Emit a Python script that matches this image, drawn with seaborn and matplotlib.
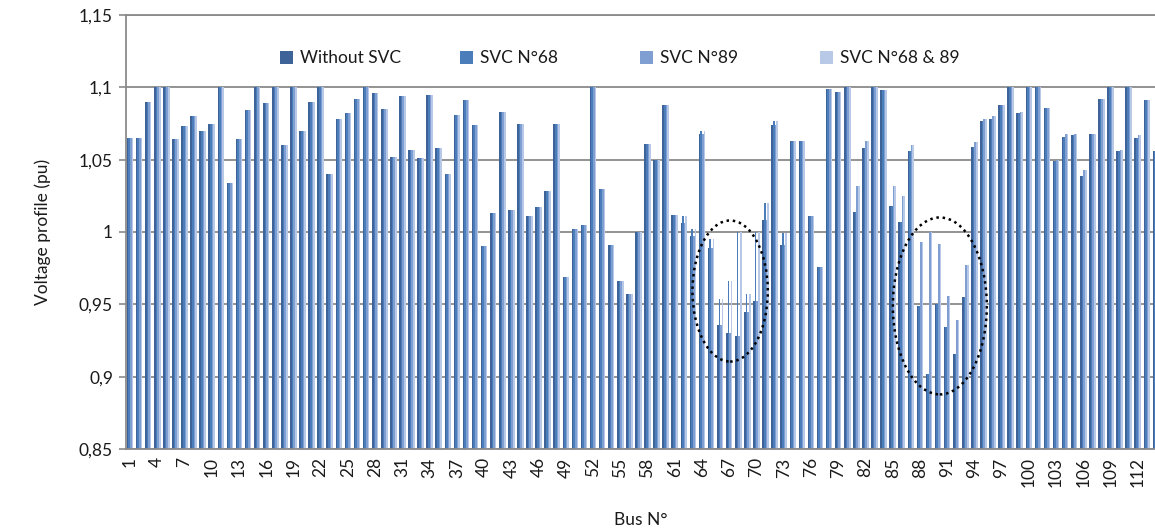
import numpy as np
import pandas as pd
import seaborn as sns
import matplotlib.pyplot as plt
from matplotlib.patches import Patch, Ellipse

# Bus numbers and voltage profile (pu) for each case
buses = list(range(1, 115))

without_svc = [1.065, 1.065, 1.090, 1.100, 1.100, 1.064, 1.073, 1.080, 1.070, 1.075,
               1.100, 1.034, 1.064, 1.084, 1.100, 1.089, 1.100, 1.060, 1.100, 1.070,
               1.090, 1.100, 1.040, 1.078, 1.082, 1.092, 1.100, 1.096, 1.085, 1.052,
               1.094, 1.057, 1.051, 1.095, 1.058, 1.040, 1.081, 1.091, 1.074, 0.990,
               1.013, 1.083, 1.015, 1.075, 1.011, 1.017, 1.028, 1.075, 0.969, 1.002,
               1.005, 1.100, 1.030, 0.991, 0.966, 0.957, 1.000, 1.061, 1.050, 1.088,
               1.012, 1.006, 0.997, 1.068, 0.989, 0.936, 0.930, 0.928, 0.945, 0.952,
               1.008, 1.074, 0.991, 1.063, 1.063, 1.011, 0.976, 1.099, 1.097, 1.100,
               1.014, 1.058, 1.100, 1.098, 1.018, 1.007, 1.056, 0.949, 0.902, 0.950,
               0.934, 0.916, 0.955, 1.059, 1.077, 1.078, 1.088, 1.100, 1.082, 1.100,
               1.100, 1.086, 1.049, 1.066, 1.067, 1.039, 1.068, 1.092, 1.100, 1.056,
               1.100, 1.065, 1.091, 1.056]

svc_68 = [1.065, 1.065, 1.090, 1.100, 1.100, 1.064, 1.073, 1.080, 1.070, 1.075,
          1.100, 1.034, 1.064, 1.084, 1.100, 1.089, 1.100, 1.060, 1.100, 1.070,
          1.090, 1.100, 1.040, 1.078, 1.082, 1.092, 1.100, 1.096, 1.085, 1.052,
          1.094, 1.057, 1.051, 1.095, 1.058, 1.040, 1.081, 1.091, 1.074, 0.990,
          1.013, 1.083, 1.015, 1.075, 1.011, 1.017, 1.028, 1.075, 0.969, 1.002,
          1.005, 1.100, 1.030, 0.991, 0.966, 0.957, 1.000, 1.061, 1.050, 1.088,
          1.012, 1.011, 1.002, 1.070, 0.995, 0.954, 0.966, 1.000, 0.957, 1.000,
          1.020, 1.077, 0.999, 1.063, 1.063, 1.011, 0.976, 1.099, 1.097, 1.100,
          1.014, 1.058, 1.100, 1.098, 1.018, 1.007, 1.056, 0.949, 0.902, 0.950,
          0.934, 0.916, 0.955, 1.059, 1.077, 1.078, 1.088, 1.100, 1.082, 1.100,
          1.100, 1.086, 1.049, 1.066, 1.067, 1.039, 1.068, 1.092, 1.100, 1.056,
          1.100, 1.065, 1.091, 1.056]

svc_89 = [1.065, 1.065, 1.090, 1.100, 1.100, 1.064, 1.073, 1.080, 1.070, 1.075,
          1.100, 1.034, 1.064, 1.084, 1.100, 1.089, 1.100, 1.060, 1.100, 1.070,
          1.090, 1.100, 1.040, 1.078, 1.082, 1.092, 1.100, 1.096, 1.085, 1.052,
          1.094, 1.057, 1.051, 1.095, 1.058, 1.040, 1.081, 1.091, 1.074, 0.990,
          1.013, 1.083, 1.015, 1.075, 1.011, 1.017, 1.028, 1.075, 0.969, 1.002,
          1.005, 1.100, 1.030, 0.991, 0.966, 0.957, 1.000, 1.061, 1.050, 1.088,
          1.012, 1.006, 0.997, 1.068, 0.989, 0.936, 0.930, 0.928, 0.945, 0.952,
          1.008, 1.074, 0.991, 1.063, 1.063, 1.011, 0.976, 1.099, 1.097, 1.100,
          1.032, 1.063, 1.100, 1.098, 1.032, 1.025, 1.060, 0.993, 1.000, 0.992,
          0.956, 0.939, 0.977, 1.062, 1.078, 1.080, 1.088, 1.100, 1.083, 1.100,
          1.100, 1.086, 1.050, 1.068, 1.068, 1.043, 1.068, 1.092, 1.100, 1.057,
          1.100, 1.067, 1.091, 1.056]

svc_68_89 = [1.065, 1.065, 1.090, 1.100, 1.100, 1.064, 1.073, 1.080, 1.070, 1.075,
             1.100, 1.034, 1.064, 1.084, 1.100, 1.089, 1.100, 1.060, 1.100, 1.070,
             1.090, 1.100, 1.040, 1.078, 1.082, 1.092, 1.100, 1.096, 1.085, 1.052,
             1.094, 1.057, 1.051, 1.095, 1.058, 1.040, 1.081, 1.091, 1.074, 0.990,
             1.013, 1.083, 1.015, 1.075, 1.011, 1.017, 1.028, 1.075, 0.969, 1.002,
             1.005, 1.100, 1.030, 0.991, 0.966, 0.957, 1.000, 1.061, 1.050, 1.088,
             1.012, 1.011, 1.002, 1.070, 0.995, 0.954, 0.966, 1.000, 0.957, 1.000,
             1.020, 1.077, 0.999, 1.063, 1.063, 1.011, 0.976, 1.099, 1.097, 1.100,
             1.032, 1.063, 1.100, 1.098, 1.032, 1.025, 1.060, 0.993, 1.000, 0.992,
             0.956, 0.939, 0.977, 1.062, 1.078, 1.080, 1.088, 1.100, 1.083, 1.100,
             1.100, 1.086, 1.050, 1.068, 1.068, 1.043, 1.068, 1.092, 1.100, 1.057,
             1.100, 1.067, 1.091, 1.056]

cases = ['Without SVC', 'SVC N°68', 'SVC N°89', 'SVC N°68 & 89']
colors = ['#3D6399', '#4A7DBA', '#7F9ED1', '#B7C9E6']

data = pd.DataFrame({'Bus': buses,
                     cases[0]: without_svc,
                     cases[1]: svc_68,
                     cases[2]: svc_89,
                     cases[3]: svc_68_89})
long = data.melt(id_vars='Bus', var_name='Case', value_name='Voltage')

sns.set_style('white')
plt.rcParams['font.family'] = ['Lato', 'DejaVu Sans']
text_color = '#1a1a1a'
grid_color = '#8a8a8a'

fig = plt.figure(figsize=(11.55, 5.31), dpi=100)
ax = fig.add_axes([125.5 / 1155, 1 - 449 / 531, (1155 - 125.5) / 1155, (449 - 15) / 531])

sns.barplot(data=long, x='Bus', y='Voltage', hue='Case', hue_order=cases,
            palette=colors, width=0.72, saturation=1, errorbar=None,
            legend=False, linewidth=0, ax=ax)

ax.set_xlim(-0.5, 112.9)
ax.set_ylim(0.85, 1.15)

yticks = np.round(np.arange(0.85, 1.1501, 0.05), 2)
ax.set_yticks(yticks)
ax.set_yticklabels([f'{v:g}'.replace('.', ',') for v in yticks], fontsize=12.5, color=text_color)

ax.set_xticks(range(0, len(buses), 3))
ax.set_xticklabels([str(b) for b in buses[::3]], rotation=90, fontsize=12.5, color=text_color)

ax.yaxis.grid(True, color=grid_color, linewidth=1.3)
ax.xaxis.grid(False)
ax.set_axisbelow(True)

for side in ['left', 'bottom', 'top']:
    ax.spines[side].set_color(grid_color)
    ax.spines[side].set_linewidth(1.3)
ax.spines['right'].set_visible(False)
ax.tick_params(axis='y', length=5, color=grid_color, width=1.2, pad=4, left=True)
ax.tick_params(axis='x', length=0, pad=6)

ax.set_xlabel('Bus N°', fontsize=12.5, color=text_color)
ax.set_ylabel('Voltage profile (pu)', fontsize=12.5, color=text_color)
ax.xaxis.set_label_coords(0.5, -0.145)
ax.yaxis.set_label_coords(-0.072, 0.5)

# dotted ellipses around the low-voltage areas near bus 67 and bus 90
ax.add_patch(Ellipse((66.1, 0.9592), 8.3, 0.0975, fill=False, edgecolor='black',
                     linestyle=(0, (1, 1.5)), linewidth=1.8, zorder=5))
ax.add_patch(Ellipse((89.2, 0.9489), 10.35, 0.1223, fill=False, edgecolor='black',
                     linestyle=(0, (1, 1.5)), linewidth=1.8, zorder=5))

# legend entries spaced evenly along the top, like the original
legend_x = [0.150, 0.325, 0.500, 0.675]
legends = []
for case, color, lx in zip(cases, colors, legend_x):
    leg = ax.legend(handles=[Patch(facecolor=color, edgecolor='none')], labels=[case],
                    loc='center left', bbox_to_anchor=(lx, 0.90), frameon=False,
                    fontsize=12.5, handlelength=0.75, handleheight=0.75,
                    handletextpad=0.4, borderpad=0, borderaxespad=0, labelcolor=text_color)
    legends.append(leg)
for leg in legends[:-1]:
    ax.add_artist(leg)

fig.savefig('out.png', dpi=100)
